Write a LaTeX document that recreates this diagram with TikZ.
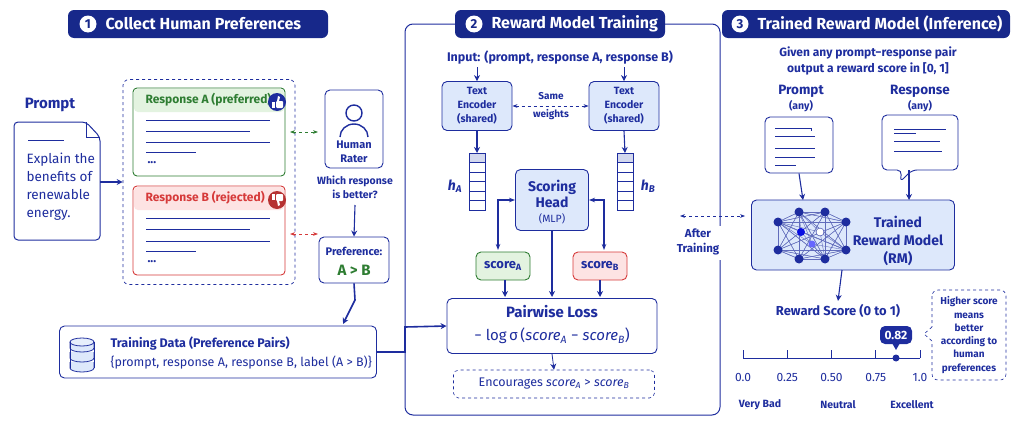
\documentclass[tikz,border=0pt]{standalone}
\usepackage{fontspec}
\setmainfont{Fira Sans}
\usetikzlibrary{arrows.meta,shapes.geometric,calc}
\definecolor{navy}{HTML}{1E2D9E}
\definecolor{hdr}{HTML}{17288A}
\definecolor{lblue}{HTML}{DDE8FB}
\definecolor{gr}{HTML}{2E7D32}
\definecolor{lgr}{HTML}{E3F3E0}
\definecolor{rd}{HTML}{D63A3A}
\definecolor{lrd}{HTML}{FDE3E3}
\newcommand{\fs}[1]{\fontsize{#1}{1.2\dimexpr#1pt\relax}\selectfont}
\tikzset{
 hdrbox/.style={fill=hdr,rounded corners=6pt,text=white,font=\fs{16}\bfseries,minimum height=28pt,inner xsep=8pt,anchor=west,text height=12pt,text depth=3pt},
 box/.style={draw=navy,line width=0.9pt,rounded corners=5pt,fill=white,align=center,text=navy},
 fbox/.style={box,fill=lblue},
 arr/.style={-{Stealth[length=6pt,width=6pt]},draw=navy,line width=1.1pt},
 darr/.style={{Stealth[length=5pt]}-{Stealth[length=5pt]},dashed,line width=0.8pt},
 t/.style={text=navy,font=\fs{12},align=center},
 tb/.style={t,font=\fs{12}\bfseries},
 ln/.style={draw=navy,line width=1pt},
 num/.style={circle,fill=white,text=hdr,inner sep=1pt,minimum size=17pt,font=\fs{13}\bfseries}
}
\begin{document}
\begin{tikzpicture}[x=1pt,y=-1pt]
\useasboundingbox (0,0) rectangle (1024,439);
% panel 2 frame
\draw[navy,line width=1pt,rounded corners=8pt] (405,24) rectangle (720,415);
% headers
\fill[hdr,rounded corners=6pt] (68,10) rectangle (328,38);
\node[text=white,font=\fs{16}\bfseries,anchor=west] (h1) at (102,24) {Collect Human Preferences};
\node[num] (n1) at (88,24) {1};
\fill[hdr,rounded corners=6pt] (455,10) rectangle (665,38);
\node[text=white,font=\fs{16}\bfseries,anchor=west] (h2) at (488,24) {Reward Model Training};
\node[num] (n2) at (474,24) {2};
\fill[hdr,rounded corners=6pt] (722,10) rectangle (1010,38);
\node[text=white,font=\fs{16}\bfseries,anchor=west] (h3) at (754,24) {Trained Reward Model (Inference)};
\node[num] (n3) at (740,24) {3};

% ===== Panel 1 =====
\node[tb,font=\fs{15}\bfseries] (plab) at (50,105) {Prompt};
\draw[navy,line width=1pt,rounded corners=4pt,fill=white] (14,122) -- (86,122) -- (100,137) -- (100,240) -- (14,240) -- cycle;
\draw[navy,line width=0.8pt] (86,122) -- (86,137) -- (100,137);
\coordinate (doc) at (100,182);
\draw[ln] (28,140) -- (64,140);
\node[t,anchor=west,align=left,font=\fontsize{13.5}{18}\selectfont] (ptxt) at (23,187) {Explain the\\benefits of\\renewable\\energy.};
\node[draw=navy,dashed,rounded corners=6pt,minimum width=172pt,minimum height=205pt,line width=0.7pt] (resp) at (209,182) {};
\draw[arr,line width=1.6pt] (doc) -- (resp.west);
% Response A
\draw[gr,line width=0.9pt,rounded corners=4pt,fill=white] (133,88) rectangle (285,176);
\fill[lgr,rounded corners=4pt] (134,89) rectangle (284,112);
\node[anchor=west,text=gr,font=\fs{12}\bfseries] (ra) at (142,100) {Response A (preferred)};
\node[circle,fill=navy,minimum size=18pt,inner sep=0] (tu) at (277,102) {};
\fill[white] (272,102) rectangle (275,108);
\fill[white,rounded corners=1pt] (276,101) rectangle (283,108);
\fill[white] (277,101) -- (278,96) -- (280,97) -- (279,101) -- cycle;
\foreach \y/\l in {120/270,131/250,142/270,152/196}{\draw[ln] (146,\y) -- (\l,\y);}
\node[tb,anchor=west] (da) at (144,163) {...};
% Response B
\draw[rd,line width=0.9pt,rounded corners=4pt,fill=white] (133,186) rectangle (285,275);
\fill[lrd,rounded corners=4pt] (134,187) rectangle (284,210);
\node[anchor=west,text=rd,font=\fs{12}\bfseries] (rb) at (142,198) {Response B (rejected)};
\node[circle,fill=rd!85!black,minimum size=18pt,inner sep=0] (td) at (277,200) {};
\fill[white] (272,194) rectangle (275,200);
\fill[white,rounded corners=1pt] (276,194) rectangle (283,201);
\fill[white] (277,201) -- (278,206) -- (280,205) -- (279,201) -- cycle;
\foreach \y/\l in {218/270,229/250,241/270,251/196}{\draw[ln] (146,\y) -- (\l,\y);}
\node[tb,anchor=west] (db) at (144,262) {...};
% Human rater
\node[box,minimum width=58pt,minimum height=78pt] (hr) at (354,129) {};
\draw[navy,line width=1.4pt] (354,113) circle (8pt);
\draw[navy,line width=1.4pt] (340,137) arc (180:0:14pt and 13pt);
\node[tb,font=\fontsize{11}{14}\selectfont\bfseries] (hrt) at (354,152) {Human\\Rater};
\draw[darr,gr] (290,132) -- (318,132);
\draw[darr,rd] (290,234) -- (318,234);
\node[tb,font=\fontsize{10.5}{14}\selectfont\bfseries] (which) at (355,187) {Which response\\is better?};
\node[box,minimum width=70pt,minimum height=46pt] (pref) at (354,260) {};
\node[tb,font=\fs{11}\bfseries] (preft) at (354,251) {Preference:};
\node[text=gr,font=\fs{15}\bfseries] (ab) at (354,270) {A > B};
\draw[arr] (355,205) -- (pref.north);
% training data
\node[box,minimum width=317pt,minimum height=52pt] (td2) at (218,352) {};
\foreach \y in {362,352,342}{
 \draw[navy,fill=lblue,line width=0.8pt] (70,\y) -- (70,\y+6) arc (180:360:12pt and 4pt) -- (94,\y) ;
}
\draw[navy,fill=lblue!70,line width=0.8pt] (82,342) ellipse (12pt and 4pt);
\draw[navy,line width=0.8pt] (70,342) -- (70,368) (94,342) -- (94,368);
\node[tb,anchor=west,font=\fs{12.5}\bfseries] (tdt) at (107,344) {Training Data (Preference Pairs)};
\node[t,anchor=west,font=\fs{12.5}] (tdt2) at (107,363) {\{prompt, response A, response B, label (A > B)\}};
\draw[arr,line width=1.6pt] (pref.south) -- (355,300) -- (343,324);

% ===== Panel 2 =====
\node[tb,font=\fs{12.5}\bfseries] (inp) at (560,58) {Input: (prompt, response A, response B)};
\node[fbox,minimum width=70pt,minimum height=49pt,font=\fontsize{10.5}{14}\selectfont\bfseries] (ea) at (477,106) {Text\\Encoder\\(shared)};
\node[fbox,minimum width=70pt,minimum height=49pt,font=\fontsize{10.5}{14}\selectfont\bfseries] (eb) at (624,106) {Text\\Encoder\\(shared)};
\draw[arr,line width=0.7pt] (477,67) -- (ea.north);
\draw[arr,line width=0.7pt] (624,67) -- (eb.north);
\draw[darr,navy,line width=0.6pt] (ea.east) -- (eb.west);
\fill[white] (530,92) rectangle (572,101);
\fill[white] (526,110) rectangle (576,121);
\node[tb,font=\fontsize{10}{18}\selectfont\bfseries] (same) at (551,106) {Same\\weights};
\foreach \x/\n in {477/va,625/vb}{
 \fill[lblue!60!navy!40] (\x-8,153) rectangle (\x+8,162);
 \foreach \i in {0,...,5}{\draw[navy,line width=0.8pt] (\x-8,153+\i*9.5) rectangle (\x+8,162.5+\i*9.5);}
 \coordinate (\n) at (\x,153);
}
\draw[arr] (ea.south) -- (va);
\draw[arr] (eb.south) -- (vb);
\node[text=navy,font=\fs{14}\bfseries\itshape] (ha) at (455,186) {h\textsubscript{A}};
\node[text=navy,font=\fs{14}\bfseries\itshape] (hb) at (648,186) {h\textsubscript{B}};
\node[fbox,minimum width=73pt,minimum height=61pt] (sh) at (552,200) {};
\node[tb,font=\fontsize{14}{16}\selectfont\bfseries] (sht) at (552,194) {Scoring\\Head};
\node[t,font=\fs{10.5}] (mlp) at (552,219) {(MLP)};
\node[box,draw=gr,fill=lgr,minimum width=54pt,minimum height=28pt,font=\fs{13}\bfseries] (sa) at (503,266) {score\textsubscript{A}};
\node[box,draw=rd,fill=lrd,minimum width=54pt,minimum height=28pt,font=\fs{13}\bfseries] (sb) at (600,266) {score\textsubscript{B}};
\draw[arr,{Stealth[length=6pt]}-{Stealth[length=6pt]}] (sh.west |- 0,200) -| (498,250);
\draw[arr,{Stealth[length=6pt]}-{Stealth[length=6pt]}] (sh.east |- 0,200) -| (604,250);
\node[box,minimum width=210pt,minimum height=55pt] (loss) at (552,326) {};
\node[tb,font=\fs{15}\bfseries] (lt) at (552,312) {Pairwise Loss};
\node[t,font=\fs{15}] (lf) at (552,336) {− log\,σ\,(\textit{score}\textsubscript{\textit{A}} − \textit{score}\textsubscript{\textit{B}})};
\draw[arr] (505,280) -- (505,297);
\draw[arr] (sh.south) -- (552,297);
\draw[arr] (600,280) -- (600,297);
\node[box,dashed,line width=0.6pt,minimum width=201pt,minimum height=28pt,font=\fs{12.5}] (enc) at (554,384) {Encourages \textit{score}\textsubscript{\textit{A}} > \textit{score}\textsubscript{\textit{B}}};
\draw[arr,line width=0.8pt] (loss.south) -- (enc.north);
\draw[arr,line width=1.6pt] (td2.east) -- (405,352) -- (405,327) -- (loss.west);
% after training
\draw[darr,navy,line width=0.7pt] (680,216) -- (745,216);
\fill[white] (712,226) rectangle (728,260);
\node[tb,font=\fontsize{11.5}{15}\selectfont\bfseries] (aft) at (698,242) {After\\Training};

% ===== Panel 3 =====
\node[tb,font=\fontsize{12}{16}\selectfont\bfseries] (given) at (868,61) {Given any prompt−response pair\\output a reward score in [0, 1]};
\node[tb,font=\fs{13.5}\bfseries] (pl) at (801,91) {Prompt};
\node[t,font=\fs{10.5}\bfseries] (pa) at (801,106) {(any)};
\node[tb,font=\fs{13.5}\bfseries] (rl) at (920,91) {Response};
\node[t,font=\fs{10.5}\bfseries] (ra2) at (920,106) {(any)};
\node[box,minimum width=68pt,minimum height=56pt] (pd) at (799,145) {};
\foreach \y/\l in {128/811,136/815,148/815,157/815,165/796}{\draw[navy,line width=0.9pt] (775,\y) -- (\l,\y);}
\draw[navy,line width=0.9pt] (811,128) -- (811,131);
\draw[navy,line width=0.9pt,rounded corners=5pt,fill=white] (882,115) -- (958,115) -- (958,170) -- (912,170) -- (900,182) -- (902,170) -- (882,170) -- cycle;
\foreach \y/\a/\b in {129/894/946,133/894/916,141/894/940,151/894/942}{\draw[navy,line width=0.9pt] (\a,\y) -- (\b,\y);}
\node[fbox,minimum width=203pt,minimum height=70pt] (rm) at (853,235) {};
\draw[arr] (pd.south) -- (803,200);
\draw[arr] (909,170) -- (909,200);
% network
\foreach \n/\x/\y in {a/799/212,b/825/212,c/778/222,d/846/222,e/778/250,f/846/250,g/799/259,h/825/259}{\coordinate (\n) at (\x,\y);}
\foreach \p in {a,b,c,d,e,f,g,h}{\foreach \q in {a,b,c,d,e,f,g,h}{\draw[navy!70,line width=0.4pt] (\p) -- (\q);}}
\foreach \m/\x/\y in {m1/801/232,m2/820/232,m3/812/244}{\coordinate (\m) at (\x,\y); \draw[navy!70,line width=0.4pt] (\m) -- (a) (\m) -- (h) (\m) -- (c) (\m) -- (f);}
\foreach \p in {a,b,c,d,e,f,g,h}{\fill[navy] (\p) circle (4.5pt);}
\fill[blue!70!navy] (m1) circle (4pt); \fill[white,draw=navy] (m2) circle (4pt); \fill[blue!60] (m3) circle (3.5pt);
\node[tb,font=\fontsize{14}{18}\selectfont\bfseries] (rmt) at (898,241) {Trained\\Reward Model\\(RM)};
\node[tb,font=\fs{13}\bfseries] (rs) at (838,311) {Reward Score (0 to 1)};
\draw[arr] (842,270) -- (rs.north);
% scale
\draw[navy,line width=1pt] (743,358) -- (920,358);
\foreach \v/\l in {0/0.0,0.25/0.25,0.5/0.50,0.75/0.75,1/1.0}{
 \draw[navy,line width=0.8pt] ({743+177*\v},350) -- ({743+177*\v},358);
 \node[t,font=\fs{12}] at ({743+177*\v},377) {\l};
}
\fill[navy] (896,358) circle (3.5pt);
\node[fill=navy,text=white,rounded corners=5pt,font=\fs{12}\bfseries,minimum width=32pt,minimum height=18pt,inner sep=1pt] (sc) at (896,335) {0.82};
\fill[navy] (892,343) -- (900,343) -- (896,350) -- cycle;
\node[tb,font=\fs{10.5}\bfseries] (vb0) at (760,405) {Very Bad};
\node[tb,font=\fs{10.5}\bfseries] (ne) at (838,405) {Neutral};
\node[tb,font=\fs{10.5}\bfseries] (ex) at (912,405) {Excellent};
\draw[navy,dashed,line width=0.6pt,rounded corners=6pt] (932,290) rectangle (1006,380);
\fill[white] (931,327) rectangle (933,341);
\draw[navy,dashed,line width=0.6pt] (932,327) -- (924,334) -- (932,341);
\node[tb,font=\fontsize{10}{13.3}\selectfont\bfseries] (call) at (969,335) {Higher score\\means\\better\\according to\\human\\preferences};
\end{tikzpicture}
\end{document}
